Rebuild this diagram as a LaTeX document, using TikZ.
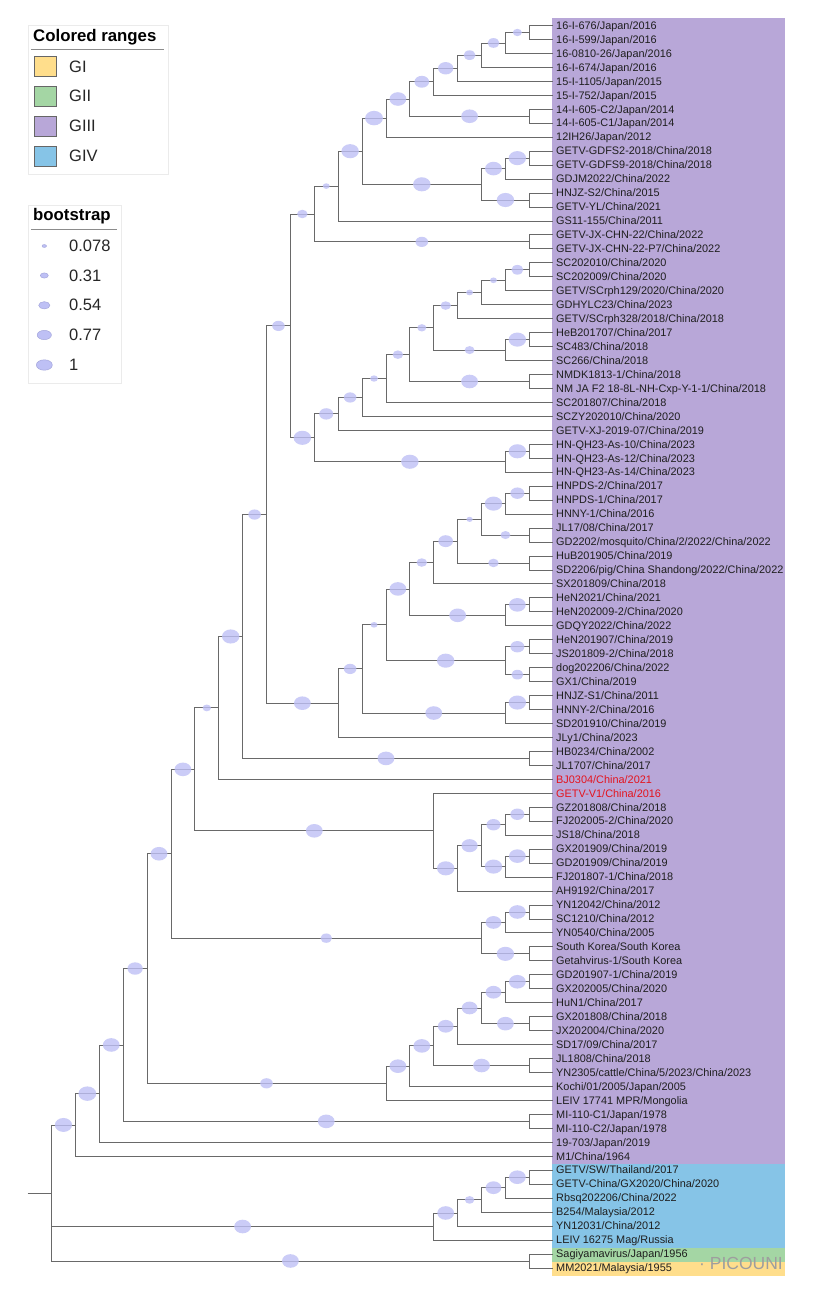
\documentclass[tikz,border=0pt]{standalone}
\usepackage{fontspec}
\setmainfont{Liberation Sans}
\usetikzlibrary{calc,shapes.geometric}
\definecolor{cGI}{RGB}{255,222,140}
\definecolor{cGII}{RGB}{164,214,164}
\definecolor{cGIII}{RGB}{184,167,216}
\definecolor{cGIV}{RGB}{134,196,231}
\definecolor{bootc}{RGB}{190,192,245}
\definecolor{bootd}{RGB}{165,167,220}
\definecolor{brc}{RGB}{105,105,105}
\definecolor{redlab}{RGB}{228,20,30}
\newcommand\tnode[4]{\path let \p1=(#3),\p2=(#4) in ({(553.2-23.89*#2)*1pt},{0.5*(\y1+\y2)}) coordinate (#1);}
\newcommand\tleafedge[2]{\draw[br] (#1) |- (#2.west);}
\newcommand\tinedge[3]{\draw[br] (#1) |- (#2);
  \path let \p1=(#1),\p2=(#2) in node[boot=#3] (e#2) at ({0.5*(\x1+\x2)},\y2) {};}
\begin{document}
\begin{tikzpicture}[x=1pt,y=-1pt,
  br/.style={draw=brc,line width=0.85pt},
  boot/.style={ellipse,inner sep=0pt,fill=bootc,fill opacity=0.8,minimum width={2.1*#1pt},minimum height={1.7*#1pt}},
  lboot/.style={ellipse,inner sep=0pt,fill=bootc,draw=bootd,line width=0.5pt,minimum width={2*#1pt},minimum height={1.3*#1pt}},
  leaf/.style={anchor=west,inner xsep=3.5pt,inner ysep=0pt,text height=8.5pt,text depth=1pt,font=\fontsize{10.9}{12}\selectfont,text=black!88},
  legtitle/.style={anchor=west,inner sep=0pt,font=\bfseries\fontsize{16.8}{19}\selectfont},
  legitem/.style={anchor=west,inner sep=0pt,font=\fontsize{16.5}{19}\selectfont,text=black!85},
  swatch/.style={draw=black!60,line width=0.6pt},
  legbox/.style={draw=black!8,line width=0.6pt,fill=white}]
\useasboundingbox (0,0) rectangle (820,1296);
\fill[white] (0,0) rectangle (820,1296);
% colored ranges
\fill[cGIII] (552,17.5) rectangle (785,1163.5);
\fill[cGIV] (552,1163.5) rectangle (785,1247.5);
\fill[cGII] (552,1247.5) rectangle (785,1261.5);
\fill[cGI] (552,1261.5) rectangle (785,1276);
% leaves
\foreach \t [count=\i] in {16-I-676/Japan/2016,16-I-599/Japan/2016,16-0810-26/Japan/2016,16-I-674/Japan/2016,15-I-1105/Japan/2015,15-I-752/Japan/2015,14-I-605-C2/Japan/2014,14-I-605-C1/Japan/2014,12IH26/Japan/2012,GETV-GDFS2-2018/China/2018,GETV-GDFS9-2018/China/2018,GDJM2022/China/2022,HNJZ-S2/China/2015,GETV-YL/China/2021,GS11-155/China/2011,GETV-JX-CHN-22/China/2022,GETV-JX-CHN-22-P7/China/2022,SC202010/China/2020,SC202009/China/2020,GETV/SCrph129/2020/China/2020,GDHYLC23/China/2023,GETV/SCrph328/2018/China/2018,HeB201707/China/2017,SC483/China/2018,SC266/China/2018,NMDK1813-1/China/2018,NM JA F2 18-8L-NH-Cxp-Y-1-1/China/2018,SC201807/China/2018,SCZY202010/China/2020,GETV-XJ-2019-07/China/2019,HN-QH23-As-10/China/2023,HN-QH23-As-12/China/2023,HN-QH23-As-14/China/2023,HNPDS-2/China/2017,HNPDS-1/China/2017,HNNY-1/China/2016,JL17/08/China/2017,GD2202/mosquito/China/2/2022/China/2022,HuB201905/China/2019,SD2206/pig/China Shandong/2022/China/2022,SX201809/China/2018,HeN2021/China/2021,HeN202009-2/China/2020,GDQY2022/China/2022,HeN201907/China/2019,JS201809-2/China/2018,dog202206/China/2022,GX1/China/2019,HNJZ-S1/China/2011,HNNY-2/China/2016,SD201910/China/2019,JLy1/China/2023,HB0234/China/2002,JL1707/China/2017,\textcolor{redlab}{BJ0304/China/2021},\textcolor{redlab}{GETV-V1/China/2016},GZ201808/China/2018,FJ202005-2/China/2020,JS18/China/2018,GX201909/China/2019,GD201909/China/2019,FJ201807-1/China/2018,AH9192/China/2017,YN12042/China/2012,SC1210/China/2012,YN0540/China/2005,South Korea/South Korea,Getahvirus-1/South Korea,GD201907-1/China/2019,GX202005/China/2020,HuN1/China/2017,GX201808/China/2018,JX202004/China/2020,SD17/09/China/2017,JL1808/China/2018,YN2305/cattle/China/5/2023/China/2023,Kochi/01/2005/Japan/2005,LEIV 17741 MPR/Mongolia,MI-110-C1/Japan/1978,MI-110-C2/Japan/1978,19-703/Japan/2019,M1/China/1964,GETV/SW/Thailand/2017,GETV-China/GX2020/China/2020,Rbsq202206/China/2022,B254/Malaysia/2012,YN12031/China/2012,LEIV 16275 Mag/Russia,Sagiyamavirus/Japan/1956,MM2021/Malaysia/1955}
  {\node[leaf] (L\i) at (552.5,{25.5+(\i-1)*13.96}) {\t};}
% internal nodes (level = height above leaves)
\tnode{na}{1}{L1}{L2}
\tnode{nb}{2}{na}{L3}
\tnode{nc}{3}{nb}{L4}
\tnode{nd}{4}{nc}{L5}
\tnode{ne}{5}{nd}{L6}
\tnode{nf}{1}{L7}{L8}
\tnode{ng}{6}{ne}{nf}
\tnode{nh}{7}{ng}{L9}
\tnode{nm}{1}{L10}{L11}
\tnode{nk}{2}{nm}{L12}
\tnode{nn}{1}{L13}{L14}
\tnode{nj}{3}{nk}{nn}
\tnode{ni}{8}{nh}{nj}
\tnode{no}{9}{ni}{L15}
\tnode{nq}{1}{L16}{L17}
\tnode{np}{10}{no}{nq}
\tnode{ma}{1}{L18}{L19}
\tnode{mb}{2}{ma}{L20}
\tnode{mc}{3}{mb}{L21}
\tnode{md}{4}{mc}{L22}
\tnode{mea}{1}{L23}{L24}
\tnode{meb}{2}{mea}{L25}
\tnode{me}{5}{md}{meb}
\tnode{mfa}{1}{L26}{L27}
\tnode{mf}{6}{me}{mfa}
\tnode{mg}{7}{mf}{L28}
\tnode{mh}{8}{mg}{L29}
\tnode{mi}{9}{mh}{L30}
\tnode{mqa}{1}{L31}{L32}
\tnode{mq}{2}{mqa}{L33}
\tnode{mj}{10}{mi}{mq}
\tnode{nr}{11}{np}{mj}
\tnode{pa}{1}{L34}{L35}
\tnode{pb}{2}{pa}{L36}
\tnode{pc}{1}{L37}{L38}
\tnode{pt}{3}{pb}{pc}
\tnode{pd}{1}{L39}{L40}
\tnode{pf}{4}{pt}{pd}
\tnode{pg}{5}{pf}{L41}
\tnode{ra}{1}{L42}{L43}
\tnode{rr}{2}{ra}{L44}
\tnode{ph}{6}{pg}{rr}
\tnode{sa}{1}{L45}{L46}
\tnode{sb}{1}{L47}{L48}
\tnode{ss}{2}{sa}{sb}
\tnode{pi}{7}{ph}{ss}
\tnode{ta}{1}{L49}{L50}
\tnode{tt}{2}{ta}{L51}
\tnode{pj}{8}{pi}{tt}
\tnode{pk}{9}{pj}{L52}
\tnode{ns}{12}{nr}{pk}
\tnode{tf}{1}{L53}{L54}
\tnode{nt}{13}{ns}{tf}
\tnode{nu}{14}{nt}{L55}
\tnode{za}{1}{L57}{L58}
\tnode{zb}{2}{za}{L59}
\tnode{zc}{1}{L60}{L61}
\tnode{zd}{2}{zc}{L62}
\tnode{ze}{3}{zb}{zd}
\tnode{zf}{4}{ze}{L63}
\tnode{nw}{5}{L56}{zf}
\tnode{nv}{15}{nu}{nw}
\tnode{va}{1}{L64}{L65}
\tnode{vb}{2}{va}{L66}
\tnode{vc}{1}{L67}{L68}
\tnode{vd}{3}{vb}{vc}
\tnode{nww}{16}{nv}{vd}
\tnode{ua}{1}{L69}{L70}
\tnode{ub}{2}{ua}{L71}
\tnode{uc}{1}{L72}{L73}
\tnode{ud}{3}{ub}{uc}
\tnode{ue}{4}{ud}{L74}
\tnode{uf}{1}{L75}{L76}
\tnode{ug}{5}{ue}{uf}
\tnode{uh}{6}{ug}{L77}
\tnode{ui}{7}{uh}{L78}
\tnode{nx}{17}{nww}{ui}
\tnode{yf}{1}{L79}{L80}
\tnode{ny}{18}{nx}{yf}
\tnode{nz}{19}{ny}{L81}
\tnode{naa}{20}{nz}{L82}
\tnode{ga}{1}{L83}{L84}
\tnode{gb}{2}{ga}{L85}
\tnode{gc}{3}{gb}{L86}
\tnode{gd}{4}{gc}{L87}
\tnode{ge}{5}{gd}{L88}
\tnode{pr}{1}{L89}{L90}
\tnode{root}{21}{naa}{pr}
\coordinate (stub) at ([xshift=-24pt]root);
% branches
\draw[br] (stub) -- (root);
\tleafedge{na}{L1}\tleafedge{na}{L2}
\tinedge{nb}{na}{4.3}\tleafedge{nb}{L3}
\tinedge{nc}{nb}{5.7}\tleafedge{nc}{L4}
\tinedge{nd}{nc}{5.7}\tleafedge{nd}{L5}
\tinedge{ne}{nd}{7.3}\tleafedge{ne}{L6}
\tleafedge{nf}{L7}\tleafedge{nf}{L8}
\tinedge{ng}{ne}{7}\tinedge{ng}{nf}{8}
\tinedge{nh}{ng}{8}\tleafedge{nh}{L9}
\tleafedge{nm}{L10}\tleafedge{nm}{L11}
\tinedge{nk}{nm}{8.3}\tleafedge{nk}{L12}
\tleafedge{nn}{L13}\tleafedge{nn}{L14}
\tinedge{nj}{nk}{8}\tinedge{nj}{nn}{8.3}
\tinedge{ni}{nh}{8.5}\tinedge{ni}{nj}{8.3}
\tinedge{no}{ni}{8.3}\tleafedge{no}{L15}
\tleafedge{nq}{L16}\tleafedge{nq}{L17}
\tinedge{np}{no}{3.3}\tinedge{np}{nq}{6}
\tleafedge{ma}{L18}\tleafedge{ma}{L19}
\tinedge{mb}{ma}{5.7}\tleafedge{mb}{L20}
\tinedge{mc}{mb}{3.3}\tleafedge{mc}{L21}
\tinedge{md}{mc}{3.3}\tleafedge{md}{L22}
\tleafedge{mea}{L23}\tleafedge{mea}{L24}
\tinedge{meb}{mea}{8.3}\tleafedge{meb}{L25}
\tinedge{me}{md}{5}\tinedge{me}{meb}{4.7}
\tleafedge{mfa}{L26}\tleafedge{mfa}{L27}
\tinedge{mf}{me}{4.3}\tinedge{mf}{mfa}{8}
\tinedge{mg}{mf}{5}\tleafedge{mg}{L28}
\tinedge{mh}{mg}{3.7}\tleafedge{mh}{L29}
\tinedge{mi}{mh}{6}\tleafedge{mi}{L30}
\tleafedge{mqa}{L31}\tleafedge{mqa}{L32}
\tinedge{mq}{mqa}{8.3}\tleafedge{mq}{L33}
\tinedge{mj}{mi}{6.7}\tinedge{mj}{mq}{8.3}
\tinedge{nr}{np}{5}\tinedge{nr}{mj}{8.3}
\tleafedge{pa}{L34}\tleafedge{pa}{L35}
\tinedge{pb}{pa}{6.7}\tleafedge{pb}{L36}
\tleafedge{pc}{L37}\tleafedge{pc}{L38}
\tinedge{pt}{pb}{8.3}\tinedge{pt}{pc}{4.7}
\tleafedge{pd}{L39}\tleafedge{pd}{L40}
\tinedge{pf}{pt}{3}\tinedge{pf}{pd}{5}
\tinedge{pg}{pf}{7}\tleafedge{pg}{L41}
\tleafedge{ra}{L42}\tleafedge{ra}{L43}
\tinedge{rr}{ra}{8}\tleafedge{rr}{L44}
\tinedge{ph}{pg}{5}\tinedge{ph}{rr}{8}
\tleafedge{sa}{L45}\tleafedge{sa}{L46}
\tleafedge{sb}{L47}\tleafedge{sb}{L48}
\tinedge{ss}{sa}{6.7}\tinedge{ss}{sb}{5.7}
\tinedge{pi}{ph}{8}\tinedge{pi}{ss}{8.3}
\tleafedge{ta}{L49}\tleafedge{ta}{L50}
\tinedge{tt}{ta}{8.3}\tleafedge{tt}{L51}
\tinedge{pj}{pi}{3.3}\tinedge{pj}{tt}{8}
\tinedge{pk}{pj}{6}\tleafedge{pk}{L52}
\tinedge{ns}{nr}{6}\tinedge{ns}{pk}{8}
\tleafedge{tf}{L53}\tleafedge{tf}{L54}
\tinedge{nt}{ns}{6}\tinedge{nt}{tf}{8}
\tinedge{nu}{nt}{8.3}\tleafedge{nu}{L55}
\tleafedge{za}{L57}\tleafedge{za}{L58}
\tinedge{zb}{za}{6.7}\tleafedge{zb}{L59}
\tleafedge{zc}{L60}\tleafedge{zc}{L61}
\tinedge{zd}{zc}{8}\tleafedge{zd}{L62}
\tinedge{ze}{zb}{6.7}\tinedge{ze}{zd}{8.3}
\tinedge{zf}{ze}{7.7}\tleafedge{zf}{L63}
\tleafedge{nw}{L56}\tinedge{nw}{zf}{8.3}
\tinedge{nv}{nu}{4}\tinedge{nv}{nw}{8}
\tleafedge{va}{L64}\tleafedge{va}{L65}
\tinedge{vb}{va}{8}\tleafedge{vb}{L66}
\tleafedge{vc}{L67}\tleafedge{vc}{L68}
\tinedge{vd}{vb}{7.5}\tinedge{vd}{vc}{8.3}
\tinedge{nww}{nv}{8}\tinedge{nww}{vd}{5.5}
\tleafedge{ua}{L69}\tleafedge{ua}{L70}
\tinedge{ub}{ua}{8}\tleafedge{ub}{L71}
\tleafedge{uc}{L72}\tleafedge{uc}{L73}
\tinedge{ud}{ub}{7.5}\tinedge{ud}{uc}{8}
\tinedge{ue}{ud}{7.5}\tleafedge{ue}{L74}
\tleafedge{uf}{L75}\tleafedge{uf}{L76}
\tinedge{ug}{ue}{7.5}\tinedge{ug}{uf}{8}
\tinedge{uh}{ug}{8}\tleafedge{uh}{L77}
\tinedge{ui}{uh}{8}\tleafedge{ui}{L78}
\tinedge{nx}{nww}{8}\tinedge{nx}{ui}{6}
\tleafedge{yf}{L79}\tleafedge{yf}{L80}
\tinedge{ny}{nx}{7.3}\tinedge{ny}{yf}{8}
\tinedge{nz}{ny}{8}\tleafedge{nz}{L81}
\tinedge{naa}{nz}{8.5}\tleafedge{naa}{L82}
\tleafedge{ga}{L83}\tleafedge{ga}{L84}
\tinedge{gb}{ga}{8}\tleafedge{gb}{L85}
\tinedge{gc}{gb}{7.5}\tleafedge{gc}{L86}
\tinedge{gd}{gc}{4.5}\tleafedge{gd}{L87}
\tinedge{ge}{gd}{8}\tleafedge{ge}{L88}
\tleafedge{pr}{L89}\tleafedge{pr}{L90}
\tinedge{root}{naa}{8.2}\tinedge{root}{ge}{8}\tinedge{root}{pr}{8}
% watermark
\node[anchor=west,inner sep=0pt,text=black!38,font=\fontsize{17.5}{20}\selectfont] (wm) at (699,1263) {· PICOUNI};
% legend: colored ranges
\node[legbox,minimum width=140.5pt,minimum height=149.5pt,anchor=north west,inner sep=0pt] (box1) at (27.5,24.5) {};
\node[legtitle] (t1) at (33,37) {Colored ranges};
\coordinate (u1a) at (31,49.5); \coordinate (u1b) at (164,49.5);
\draw[draw=black!45,line width=0.7pt] (u1a) -- (u1b);
\node[swatch,fill=cGI,minimum width=22.5pt,minimum height=20pt,inner sep=0pt,anchor=west] (s1) at (33.5,66.5) {};
\node[swatch,fill=cGII,minimum width=22.5pt,minimum height=20pt,inner sep=0pt,anchor=west] (s2) at (33.5,96.3) {};
\node[swatch,fill=cGIII,minimum width=22.5pt,minimum height=20pt,inner sep=0pt,anchor=west] (s3) at (33.5,126.2) {};
\node[swatch,fill=cGIV,minimum width=22.5pt,minimum height=20pt,inner sep=0pt,anchor=west] (s4) at (33.5,156) {};
\node[legitem] (g1) at (69,66.5) {GI};
\node[legitem] (g2) at (69,96.3) {GII};
\node[legitem] (g3) at (69,126.2) {GIII};
\node[legitem] (g4) at (69,156) {GIV};
% legend: bootstrap
\node[legbox,minimum width=93pt,minimum height=178pt,anchor=north west,inner sep=0pt] (box2) at (27.5,205) {};
\node[legtitle] (t2) at (33,216.5) {bootstrap};
\coordinate (u2a) at (31,229.5); \coordinate (u2b) at (117,229.5);
\draw[draw=black!45,line width=0.7pt] (u2a) -- (u2b);
\node[lboot=2.2] (b1) at (44.3,246) {};
\node[lboot=4] (b2) at (44.3,275.5) {};
\node[lboot=5.6] (b3) at (44.3,305.3) {};
\node[lboot=7.1] (b4) at (44.3,335) {};
\node[lboot=8] (b5) at (44.3,365) {};
\node[legitem] (v1) at (69,246) {0.078};
\node[legitem] (v2) at (69,275.5) {0.31};
\node[legitem] (v3) at (69,305.3) {0.54};
\node[legitem] (v4) at (69,335) {0.77};
\node[legitem] (v5) at (69,365) {1};
\end{tikzpicture}
\end{document}
